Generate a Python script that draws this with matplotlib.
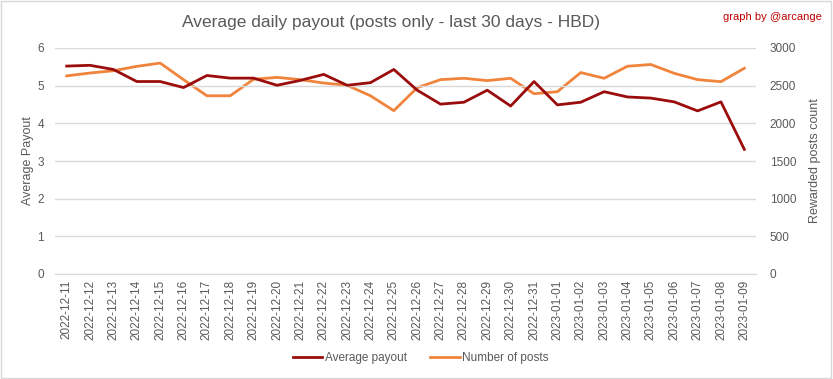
import matplotlib
matplotlib.use('Agg')
import matplotlib.pyplot as plt
from matplotlib.patches import Rectangle

plt.rcParams['font.family'] = ['Liberation Sans', 'DejaVu Sans']

# Data
dates = ["2022-12-11", "2022-12-12", "2022-12-13", "2022-12-14", "2022-12-15",
         "2022-12-16", "2022-12-17", "2022-12-18", "2022-12-19", "2022-12-20",
         "2022-12-21", "2022-12-22", "2022-12-23", "2022-12-24", "2022-12-25",
         "2022-12-26", "2022-12-27", "2022-12-28", "2022-12-29", "2022-12-30",
         "2022-12-31", "2023-01-01", "2023-01-02", "2023-01-03", "2023-01-04",
         "2023-01-05", "2023-01-06", "2023-01-07", "2023-01-08", "2023-01-09"]
avg_payout = [5.52, 5.54, 5.43, 5.11, 5.11, 4.95, 5.27, 5.20, 5.20, 5.01,
              5.14, 5.30, 5.01, 5.08, 5.43, 4.88, 4.51, 4.56, 4.88, 4.46,
              5.11, 4.49, 4.56, 4.84, 4.70, 4.67, 4.57, 4.33, 4.57, 3.31]
num_posts = [2630, 2668, 2698, 2756, 2800, 2580, 2366, 2366, 2585, 2610,
             2580, 2535, 2505, 2366, 2168, 2473, 2580, 2598, 2567, 2598,
             2393, 2420, 2674, 2598, 2758, 2781, 2664, 2580, 2553, 2731]

RED = "#9b0d0d"
ORANGE = "#f0843c"
GRAY = "#595959"
GRID = "#d9d9d9"

fig = plt.figure(figsize=(8.33, 3.79), dpi=100)
fig.patches.append(Rectangle((0.001, 0.002), 0.997, 0.995, transform=fig.transFigure,
                             fill=False, edgecolor="#d9d9d9", linewidth=1))
ax = fig.add_axes([55 / 833, 1 - 274 / 379, (756 - 55) / 833, (274 - 48) / 379])
ax2 = ax.twinx()

x = range(len(dates))
ax.plot(x, avg_payout, color=RED, linewidth=2, label="Average payout")
ax2.plot(x, num_posts, color=ORANGE, linewidth=2, label="Number of posts")
ax.set_zorder(ax2.get_zorder() + 1)
ax.patch.set_visible(False)

ax.set_ylim(0, 6)
ax.set_yticks(range(0, 7))
ax2.set_ylim(0, 3000)
ax2.set_yticks(range(0, 3001, 500))
ax.set_xlim(-0.5, len(dates) - 0.5)
ax.set_xticks(list(x))
ax.set_xticklabels(dates, rotation=90)

ax.grid(axis='y', color=GRID, linewidth=1)
ax.set_axisbelow(True)
for a in (ax, ax2):
    for s in a.spines.values():
        s.set_visible(False)
    a.tick_params(length=0, colors=GRAY, labelsize=8.5)
ax.spines['bottom'].set_visible(True)
ax.spines['bottom'].set_color(GRID)
ax.tick_params(axis='x', pad=4)
ax.tick_params(axis='y', pad=8)
ax2.tick_params(axis='y', pad=10)

ax.set_ylabel("Average Payout", color=GRAY, fontsize=9, labelpad=2)
ax2.set_ylabel("Rewarded posts count", color=GRAY, fontsize=9, labelpad=9)

fig.text(0.469, 0.94, "Average daily payout (posts only - last 30 days - HBD)",
         ha='center', va='center', fontsize=12.5, color=GRAY)
fig.text(0.987, 0.955, "graph by @arcange", ha='right', va='center',
         fontsize=8, color="#c00000")

h1, l1 = ax.get_legend_handles_labels()
h2, l2 = ax2.get_legend_handles_labels()
fig.legend(h1 + h2, l1 + l2, loc='center', bbox_to_anchor=(0.505, 0.055), ncol=2,
           frameon=False, fontsize=8.5, labelcolor=GRAY, handlelength=2.5,
           handletextpad=0.2, columnspacing=2)

fig.savefig("out.png", dpi=100)
